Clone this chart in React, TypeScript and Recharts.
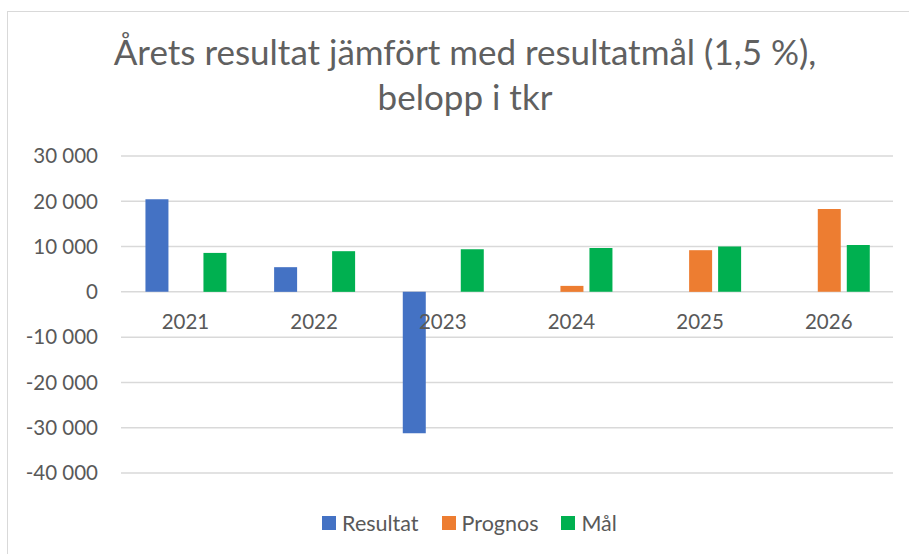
import React from "react";
import { BarChart, Bar, XAxis, YAxis, CartesianGrid, LabelList } from "recharts";

const years = ["2021", "2022", "2023", "2024", "2025", "2026"];
const resultat = [20450, 5450, -31200, null, null, null];
const prognos = [null, null, null, 1320, 9200, 18300];
const mal = [8600, 8980, 9420, 9700, 10000, 10350];
const axisZero = [0, 0, 0, 0, 0, 0];
const yTicks = [-40000, -30000, -20000, -10000, 0, 10000, 20000, 30000];

const seriesNames = ["Resultat", "Prognos", "Mål"];
const seriesColors = ["#4472C4", "#ED7D31", "#00B050"];

const data = years.map((y, i) => ({
  year: y,
  Resultat: resultat[i],
  Prognos: prognos[i],
  Mal: mal[i],
  zero: axisZero[i],
}));

const FONT = "Lato, 'Liberation Sans', sans-serif";
const TEXT = "#595959";

const fmt = (v: number) => {
  const s = Math.abs(v).toString().replace(/\B(?=(\d{3})+(?!\d))/g, " ");
  return (v < 0 ? "-" : "") + s;
};

const CatLabel = (props: any) => {
  const vb = props.viewBox || {};
  const x = props.x ?? vb.x;
  const y = props.y ?? vb.y;
  const width = props.width ?? vb.width ?? 0;
  const value = props.value;
  if (x == null || y == null) return null;
  return (
    <text
      x={Number(x) + Number(width) / 2}
      y={Number(y) + 30}
      textAnchor="middle"
      dominantBaseline="central"
      fill={TEXT}
      fontSize={20.5}
      fontFamily={FONT}
    >
      {value}
    </text>
  );
};

export default function App() {
  return (
    <div
      style={{
        position: "absolute",
        left: 0,
        top: 0,
        width: 909,
        height: 554,
        overflow: "hidden",
        background: "#fff",
      }}
    >
      <div
        style={{
          position: "absolute",
          left: 7,
          top: 11,
          width: 960,
          height: 600,
          border: "1.5px solid #D9D9D9",
          boxSizing: "border-box",
        }}
      />
      <div
        style={{
          position: "absolute",
          left: 0,
          width: 930,
          top: 29,
          textAlign: "center",
          fontFamily: FONT,
          fontSize: 35,
          lineHeight: "45px",
          color: "#606060",
        }}
      >
        Årets resultat jämfört med resultatmål (1,5 %),
        <br />
        belopp i tkr
      </div>
      <div style={{ position: "absolute", left: 0, top: 0 }}>
        <BarChart
          width={909}
          height={554}
          data={data}
          margin={{ top: 156, right: 16, bottom: 81, left: 0 }}
          barCategoryGap="19%"
          barGap={6}
        >
          <CartesianGrid vertical={false} stroke="#D9D9D9" strokeWidth={1.5} />
          <XAxis dataKey="year" hide />
          <XAxis dataKey="year" xAxisId="lbl" hide />
          <YAxis
            domain={[-40000, 30000]}
            ticks={yTicks}
            tickFormatter={fmt}
            axisLine={false}
            tickLine={false}
            tickSize={0}
            tickMargin={23}
            width={121}
            interval={0}
            tick={{ fill: TEXT, fontSize: 20.5, fontFamily: FONT }}
          />
          <Bar dataKey="Resultat" fill={seriesColors[0]} isAnimationActive={false} />
          <Bar dataKey="Prognos" fill={seriesColors[1]} isAnimationActive={false} />
          <Bar dataKey="Mal" name="Mål" fill={seriesColors[2]} isAnimationActive={false} />
          <Bar
            dataKey="zero"
            xAxisId="lbl"
            fill="transparent"
            legendType="none"
            minPointSize={1}
            isAnimationActive={false}
          >
            <LabelList dataKey="year" content={CatLabel} />
          </Bar>
        </BarChart>
      </div>
      <div
        style={{
          position: "absolute",
          left: 0,
          width: 939,
          top: 510,
          display: "flex",
          justifyContent: "center",
          alignItems: "center",
          fontFamily: FONT,
          fontSize: 21.5,
          color: TEXT,
        }}
      >
        {seriesNames.map((n, i) => (
          <div
            key={n}
            style={{ display: "flex", alignItems: "center", marginRight: i < seriesNames.length - 1 ? 23 : 0 }}
          >
            <span
              style={{
                display: "inline-block",
                width: 14,
                height: 14,
                background: seriesColors[i],
                marginRight: 6,
              }}
            />
            <span>{n}</span>
          </div>
        ))}
      </div>
    </div>
  );
}
